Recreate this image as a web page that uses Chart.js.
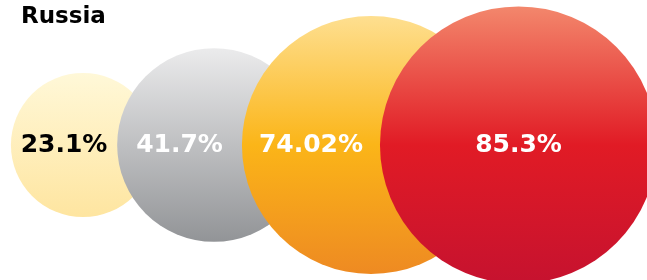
<!DOCTYPE html>
<html>
<head>
<meta charset="utf-8">
<script src="https://cdn.jsdelivr.net/npm/chart.js@4"></script>
<style>
  html, body { margin: 0; padding: 0; background: #fff; }
  canvas { display: block; }
</style>
</head>
<body>
<canvas id="grafico" width="647" height="280"></canvas>
<script>
// Dados
const titulo = 'Russia';
const valores = [23.1, 41.7, 74.02, 85.3];
const rotulos = ['23.1%', '41.7%', '74.02%', '85.3%'];
const bubbleX = [12.83, 33.08, 57.34, 80.14]; // posição no eixo x (0-100)

// Estilos
const gradientes = [
    [[0, '#FFF8D8'], [1, '#FEE5A0']],
    [[0, '#EBEBEC'], [1, '#929497']],
    [[0, '#FEDF90'], [0.5, '#FBB518'], [1, '#EE8A22']],
    [[0, '#F3876C'], [0.5, '#E11B25'], [1, '#C6122F']]
];
const corTexto = ['#000000', '#ffffff', '#ffffff', '#ffffff'];
const escalaRaio = 15; // raio = 15 * sqrt(valor), área proporcional ao valor

const fonte = '"DejaVu Sans", Verdana, sans-serif';

// Preenchimento em degradê vertical para cada bolha
function preenchimento(context) {
    if (context.type !== 'data') return;
    const chart = context.chart;
    const i = context.dataIndex;
    if (!chart.chartArea || !chart.scales.y) return gradientes[i][0][1];
    const cy = chart.scales.y.getPixelForValue(context.raw.y);
    const r = context.raw.r;
    const g = chart.ctx.createLinearGradient(0, cy - r, 0, cy + r);
    gradientes[i].forEach(s => g.addColorStop(s[0], s[1]));
    return g;
}

// Título e rótulos desenhados sobre as bolhas
const pluginTextos = {
    id: 'textos',
    afterDatasetsDraw(chart) {
        const ctx = chart.ctx;
        const pontos = chart.getDatasetMeta(0).data;
        ctx.save();
        ctx.font = 'bold 23px ' + fonte;
        ctx.fillStyle = '#000';
        ctx.textAlign = 'left';
        ctx.textBaseline = 'alphabetic';
        ctx.fillText(titulo, 21, 23);

        ctx.font = 'bold 25px ' + fonte;
        ctx.textAlign = 'center';
        ctx.textBaseline = 'middle';
        pontos.forEach((p, i) => {
            const r = chart.data.datasets[0].data[i].r;
            let x = p.x;
            if (i < pontos.length - 1) {
                const prox = pontos[i + 1];
                const rProx = chart.data.datasets[0].data[i + 1].r;
                x = ((p.x - r) + (prox.x - rProx)) / 2;
            }
            ctx.fillStyle = corTexto[i];
            ctx.fillText(rotulos[i], x, p.y);
        });
        ctx.restore();
    }
};

const ctx = document.getElementById('grafico').getContext('2d');

let grafico = new Chart(ctx, {
    type: 'bubble',
    data: {
        datasets: [{
            data: valores.map((v, i) => ({ x: bubbleX[i], y: 0, r: escalaRaio * Math.sqrt(v) })),
            backgroundColor: preenchimento,
            borderWidth: 0,
            hoverRadius: 0,
            clip: false
        }]
    },
    options: {
        responsive: false,
        animation: false,
        events: [],
        layout: { autoPadding: false, padding: { top: 10, bottom: 0, left: 0, right: 0 } },
        plugins: {
            legend: { display: false },
            tooltip: { enabled: false },
            title: { display: false }
        },
        scales: {
            x: { type: 'linear', min: 0, max: 100, display: false },
            y: { type: 'linear', min: -1, max: 1, display: false }
        }
    },
    plugins: [pluginTextos]
});
</script>
</body>
</html>
